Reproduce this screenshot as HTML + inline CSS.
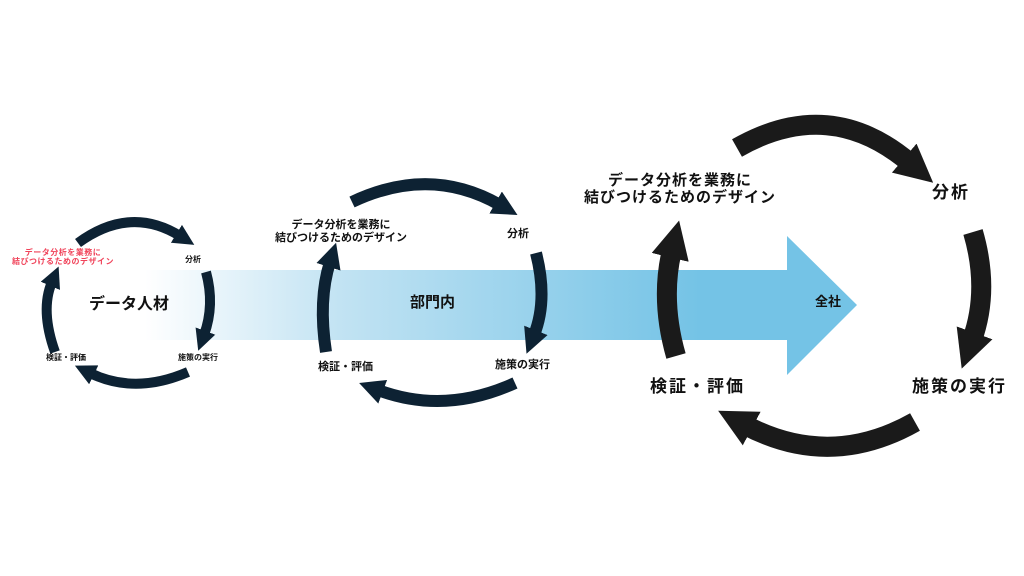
<!DOCTYPE html>
<html><head><meta charset="utf-8"><style>
body{margin:0;width:1024px;height:576px;background:#fff;overflow:hidden;position:relative;font-family:"Liberation Sans","Noto Sans CJK JP",sans-serif;font-weight:bold}
.t{position:absolute;white-space:nowrap;color:#111;text-align:center;line-height:1.15}
.b{letter-spacing:2px}
</style></head><body>
<svg width="1024" height="576" style="position:absolute;left:0;top:0">
<defs>
<linearGradient id="g" x1="145" y1="0" x2="700" y2="0" gradientUnits="userSpaceOnUse">
<stop offset="0" stop-color="#fff"/><stop offset="0.35" stop-color="#c2e3f3"/><stop offset="1" stop-color="#74c3e6"/></linearGradient>
<marker id="m1" viewBox="0 0 10 10" refX="2" refY="5" markerWidth="2.1" markerHeight="2.1" orient="auto"><path d="M0,0 L10,5 L0,10 Z" fill="#0d2233"/></marker>
<marker id="m3" viewBox="0 0 10 10" refX="2" refY="5" markerWidth="1.9" markerHeight="1.9" orient="auto"><path d="M0,0 L10,5 L0,10 Z" fill="#1a1a1a"/></marker>
</defs>
<path d="M145,270 L787,270 L787,236 L857,305 L787,375 L787,340 L145,340 Z" fill="url(#g)"/>
<g fill="none" stroke="#0d2233" stroke-width="10" marker-end="url(#m1)">
<path d="M78,243 Q130,205 180,236"/>
<path d="M206,272 Q215,305 204,335"/>
<path d="M188,372 Q135,395 90,373"/>
<path d="M55,352 Q40,310 52,282"/>
</g>
<g fill="none" stroke="#0d2233" stroke-width="12" marker-end="url(#m1)">
<path d="M352,202 Q430,165 500,205"/>
<path d="M536,253 Q548,300 534,335"/>
<path d="M515,383 Q445,415 378,390"/>
<path d="M326,352 Q318,300 330,262"/>
</g>
<g fill="none" stroke="#1a1a1a" stroke-width="20" marker-end="url(#m3)">
<path d="M737,148 Q830,95 910,163"/>
<path d="M973,232 Q990,290 972,340"/>
<path d="M915,422 Q830,470 745,425"/>
<path d="M676,356 Q660,300 672,250"/>
</g>
</svg>
<div class="t" style="left:12px;top:248px;font-size:8px;color:#f0435a;letter-spacing:0.5px">データ分析を業務に<br>結びつけるためのデザイン</div>
<div class="t" style="left:185px;top:255px;font-size:8px">分析</div>
<div class="t" style="left:178px;top:353px;font-size:8px">施策の実行</div>
<div class="t" style="left:46px;top:353px;font-size:8px">検証・評価</div>
<div class="t" style="left:89px;top:296px;font-size:16px">データ人材</div>
<div class="t" style="left:275px;top:219px;font-size:11px">データ分析を業務に<br>結びつけるためのデザイン</div>
<div class="t" style="left:507px;top:228px;font-size:11px">分析</div>
<div class="t" style="left:495px;top:359px;font-size:11px">施策の実行</div>
<div class="t" style="left:318px;top:361px;font-size:11px">検証・評価</div>
<div class="t" style="left:410px;top:294px;font-size:15px">部門内</div>
<div class="t" style="left:815px;top:295px;font-size:13px">全社</div>
<div class="t b" style="left:584px;top:172px;font-size:15px;letter-spacing:1px">データ分析を業務に<br>結びつけるためのデザイン</div>
<div class="t b" style="left:932px;top:183px;font-size:17px">分析</div>
<div class="t b" style="left:912px;top:377px;font-size:17px">施策の実行</div>
<div class="t b" style="left:650px;top:377px;font-size:17px">検証・評価</div>
</body></html>
